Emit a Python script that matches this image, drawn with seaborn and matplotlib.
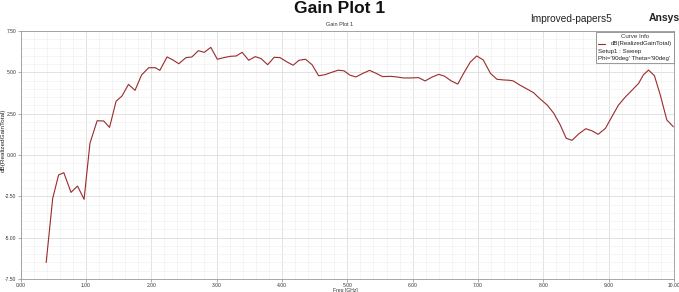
import matplotlib
matplotlib.use("Agg")
import matplotlib.pyplot as plt
import seaborn as sns
import numpy as np
import pandas as pd
from matplotlib.ticker import MultipleLocator, FormatStrFormatter

freq_ghz = [0.39, 0.49, 0.58, 0.66, 0.77, 0.87, 0.97, 1.06, 1.17, 1.27, 1.36, 1.46,
            1.55, 1.65, 1.75, 1.85, 1.96, 2.06, 2.13, 2.24, 2.33, 2.42, 2.53, 2.62,
            2.72, 2.81, 2.91, 3.01, 3.11, 3.21, 3.30, 3.39, 3.49, 3.59, 3.68, 3.78,
            3.88, 3.97, 4.07, 4.17, 4.26, 4.36, 4.46, 4.56, 4.66, 4.76, 4.86, 4.95,
            5.04, 5.13, 5.24, 5.34, 5.44, 5.54, 5.66, 5.76, 5.86, 5.96, 6.09, 6.19,
            6.29, 6.40, 6.49, 6.59, 6.69, 6.78, 6.88, 6.98, 7.08, 7.19, 7.29, 7.39,
            7.48, 7.54, 7.64, 7.75, 7.85, 7.95, 8.06, 8.16, 8.26, 8.35, 8.44, 8.54,
            8.65, 8.74, 8.84, 8.95, 9.05, 9.15, 9.26, 9.36, 9.46, 9.53, 9.61, 9.70,
            9.79, 9.89, 9.99]
gain_db = [-6.50, -2.62, -1.21, -1.07, -2.26, -1.88, -2.68, 0.71, 2.07, 2.06, 1.67, 3.25,
           3.57, 4.27, 3.91, 4.84, 5.28, 5.28, 5.12, 5.93, 5.75, 5.52, 5.89, 5.93,
           6.31, 6.21, 6.51, 5.79, 5.89, 5.97, 5.99, 6.21, 5.73, 5.95, 5.83, 5.46,
           5.91, 5.89, 5.64, 5.43, 5.73, 5.79, 5.46, 4.79, 4.86, 5.00, 5.13, 5.09,
           4.83, 4.72, 4.94, 5.12, 4.94, 4.74, 4.76, 4.72, 4.66, 4.66, 4.68, 4.48,
           4.70, 4.88, 4.76, 4.48, 4.29, 4.94, 5.61, 5.99, 5.75, 4.94, 4.58, 4.54,
           4.52, 4.48, 4.23, 3.99, 3.77, 3.39, 3.02, 2.52, 1.81, 1.01, 0.89, 1.27,
           1.59, 1.47, 1.25, 1.61, 2.32, 3.02, 3.53, 3.93, 4.34, 4.84, 5.14, 4.80,
           3.63, 2.12, 1.71]

legend_lines = ["dB(RealizedGainTotal)", "Setup1 : Sweep", "Phi='90deg' Theta='90deg'"]

sns.set_theme(style="white")
plt.rcParams["font.family"] = ["Liberation Sans", "DejaVu Sans"]

df = pd.DataFrame({"Freq [GHz]": freq_ghz, "dB(RealizedGainTotal)": gain_db})

fig = plt.figure(figsize=(6.79, 2.92), dpi=100)
ax = fig.add_axes([20.7 / 679, 1 - 279 / 292, (674 - 20.7) / 679, (279 - 31) / 292])

sns.lineplot(data=df, x="Freq [GHz]", y="dB(RealizedGainTotal)", ax=ax,
             color="#9a2b2b", linewidth=0.8)

ax.set_xlim(0, 10)
ax.set_ylim(-7.5, 7.5)
ax.xaxis.set_major_locator(MultipleLocator(1))
ax.xaxis.set_minor_locator(MultipleLocator(0.2))
ax.yaxis.set_major_locator(MultipleLocator(2.5))
ax.yaxis.set_minor_locator(MultipleLocator(0.5))
ax.xaxis.set_major_formatter(FormatStrFormatter("%.2f"))
ax.yaxis.set_major_formatter(FormatStrFormatter("%.2f"))
ax.grid(which="major", color="#dddddd", linewidth=0.6)
ax.grid(which="minor", color="#f2f2f2", linewidth=0.5)
ax.set_axisbelow(True)
ax.tick_params(axis="both", which="major", labelsize=3.6, length=2, width=0.5,
               color="#888888", pad=1.0, labelcolor="#333333")
ax.tick_params(axis="both", which="minor", length=1, width=0.4, color="#aaaaaa")
ax.tick_params(axis="x", bottom=True)
ax.tick_params(axis="y", left=True)
for s in ax.spines.values():
    s.set_color("#999999")
    s.set_linewidth(0.6)

ax.set_xlabel("Freq [GHz]", fontsize=3.6, color="#333333")
ax.xaxis.set_label_coords(0.497, -0.037)
ax.xaxis.label.set_va("top")
ax.set_ylabel("dB(RealizedGainTotal)", fontsize=4.6, color="#222222")
ax.yaxis.set_label_coords(-0.023, 0.56)

fig.text(0.5, 1 - 8.5 / 292, "Gain Plot 1", ha="center", va="center",
         fontsize=12.5, fontweight="bold", color="#111111")
fig.text(0.5, 1 - 25 / 292, "Gain Plot 1", ha="center", va="center",
         fontsize=4, color="#333333")
fig.text(571 / 679, 1 - 19 / 292, "Improved-papers5", ha="center", va="center",
         fontsize=7.3, color="#222222")
fig.text(664 / 679, 1 - 18 / 292, "Ansys", ha="center", va="center",
         fontsize=7.5, fontweight="semibold", color="#222222")

# legend box (Curve Info)
bx0, bx1 = 596 / 679, 674 / 679
by0, by1 = 1 - 63 / 292, 1 - 31.5 / 292
fig.patches.append(plt.Rectangle((bx0, by0), bx1 - bx0, by1 - by0, transform=fig.transFigure,
                                 facecolor="white", edgecolor="#888888", linewidth=0.6,
                                 zorder=5))
fig.text((bx0 + bx1) / 2, 1 - 36 / 292, "Curve Info", ha="center", va="center",
         fontsize=4.4, color="#333333", zorder=6)
fig.add_artist(plt.Line2D([598 / 679, 605 / 679], [1 - 44 / 292, 1 - 44 / 292],
                          transform=fig.transFigure, color="#9a2b2b", linewidth=0.8, zorder=6))
fig.text(672 / 679, 1 - 44 / 292, legend_lines[0], ha="right", va="center",
         fontsize=4.4, color="#222222", zorder=6)
fig.text(598 / 679, 1 - 51.5 / 292, legend_lines[1], ha="left", va="center",
         fontsize=4.4, color="#222222", zorder=6)
fig.text(598 / 679, 1 - 58.5 / 292, legend_lines[2], ha="left", va="center",
         fontsize=4.4, color="#222222", zorder=6)

fig.savefig("out.png", dpi=100, facecolor="white")
